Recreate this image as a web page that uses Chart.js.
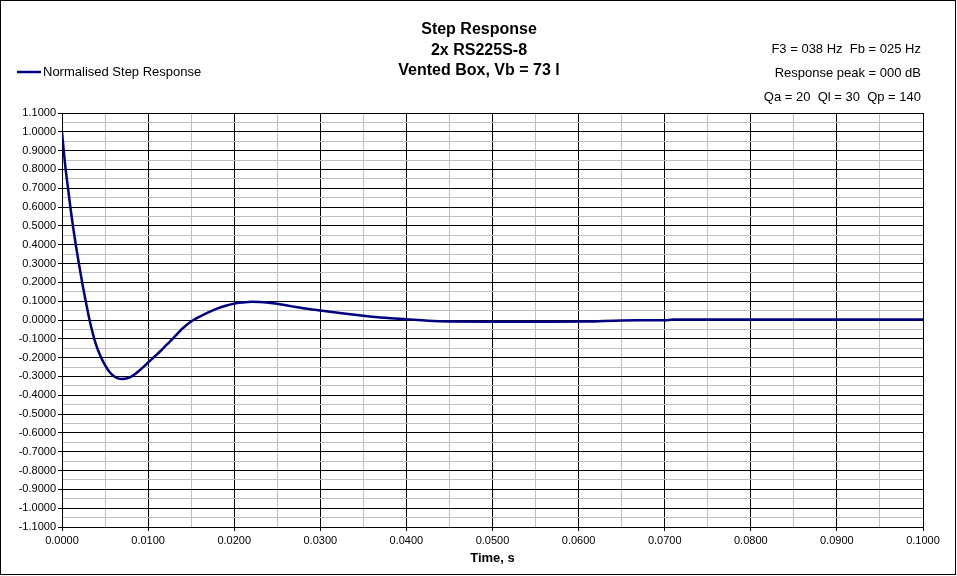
<!DOCTYPE html>
<html>
<head>
<meta charset="utf-8">
<title>Step Response</title>
<script src="https://cdn.jsdelivr.net/npm/chart.js@4.4.1/dist/chart.umd.min.js"></script>
<style>
  html, body { margin: 0; padding: 0; background: #ffffff; }
  #wrap { width: 957px; height: 576px; }
</style>
</head>
<body>
<div id="wrap"><canvas id="chart" width="957" height="576"></canvas></div>
<script>
const TITLE_LINES = ['Step Response', '2x RS225S-8', 'Vented Box, Vb = 73 l'];
const INFO_LINES = ['F3 = 038 Hz  Fb = 025 Hz', 'Response peak = 000 dB', 'Qa = 20  Ql = 30  Qp = 140'];
const SERIES_LABEL = 'Normalised Step Response';
const X_TITLE = 'Time, s';

// time (s) and normalised step response
const TIMES = [
  0.0000, 0.0002, 0.0004, 0.0007, 0.0010, 0.0013, 0.0016, 0.0020, 0.0024, 0.0028,
  0.0032, 0.0036, 0.0040, 0.0045, 0.0050, 0.0055, 0.0060, 0.0065, 0.0070, 0.0075,
  0.0080, 0.0085, 0.0090, 0.0095, 0.0100, 0.0105, 0.0110, 0.0115, 0.0120, 0.0125,
  0.0130, 0.0135, 0.0140, 0.0145, 0.0150, 0.0155, 0.0160, 0.0170, 0.0180, 0.0190,
  0.0200, 0.0210, 0.0220, 0.0230, 0.0240, 0.0250, 0.0260, 0.0270, 0.0280, 0.0290,
  0.0300, 0.0325, 0.0350, 0.0375, 0.0400, 0.0425, 0.0450, 0.0500, 0.0550, 0.0610,
  0.0650, 0.0700, 0.0710, 0.0800, 0.0900, 0.1000,
];
const RESPONSE = [
  1.000, 0.900, 0.810, 0.700, 0.590, 0.490, 0.400, 0.290, 0.185, 0.090,
  0.000, -0.075, -0.138, -0.195, -0.240, -0.275, -0.298, -0.310, -0.313, -0.311,
  -0.302, -0.287, -0.268, -0.248, -0.226, -0.205, -0.184, -0.162, -0.139, -0.116,
  -0.092, -0.069, -0.045, -0.025, -0.008, 0.006, 0.018, 0.040, 0.060, 0.076,
  0.087, 0.093, 0.097, 0.096, 0.092, 0.086, 0.078, 0.070, 0.062, 0.056,
  0.050, 0.036, 0.023, 0.012, 0.004, -0.004, -0.008, -0.009, -0.009, -0.008,
  -0.002, -0.001, 0.002, 0.002, 0.002, 0.002,
];

const X_MIN = 0, X_MAX = 0.1, X_STEP = 0.005, X_MAJOR = 0.01;
const Y_MIN = -1.1, Y_MAX = 1.1, Y_STEP = 0.05, Y_MAJOR = 0.1;

const NAVY = '#000080';
const FONT = '"Liberation Sans", Arial, sans-serif';

function onMajor(v, major) {
  const r = v / major;
  return Math.abs(r - Math.round(r)) < 1e-6;
}

// titles, info block, legend and frame drawn on top of the chart
const decorations = {
  id: 'decorations',
  afterDraw(chart) {
    const ctx = chart.ctx;
    ctx.save();
    ctx.fillStyle = '#000';
    ctx.textBaseline = 'middle';

    ctx.font = 'bold 16px ' + FONT;
    ctx.textAlign = 'center';
    [30, 51, 71].forEach((y, i) => ctx.fillText(TITLE_LINES[i], 479, y));

    ctx.font = '13px ' + FONT;
    ctx.textAlign = 'right';
    [49, 73, 97].forEach((y, i) => ctx.fillText(INFO_LINES[i], 921, y));

    // legend
    ctx.strokeStyle = NAVY;
    ctx.lineWidth = 2.5;
    ctx.beginPath();
    ctx.moveTo(17, 72);
    ctx.lineTo(41, 72);
    ctx.stroke();
    ctx.textAlign = 'left';
    ctx.fillText(SERIES_LABEL, 43, 72);

    // outer frame
    ctx.strokeStyle = '#000';
    ctx.lineWidth = 1;
    ctx.strokeRect(0.5, 0.5, 955, 574);
    ctx.restore();
  },
};

Chart.defaults.font.family = FONT;
Chart.defaults.color = '#000';

new Chart(document.getElementById('chart'), {
  type: 'line',
  data: {
    datasets: [{
      label: SERIES_LABEL,
      data: TIMES.map((t, i) => ({ x: t, y: RESPONSE[i] })),
      borderColor: NAVY,
      backgroundColor: NAVY,
      borderWidth: 2.5,
      pointRadius: 0,
      cubicInterpolationMode: 'monotone',
      fill: false,
    }],
  },
  options: {
    responsive: false,
    animation: false,
    devicePixelRatio: 1,
    layout: { padding: { top: 113, right: 34, left: 0, bottom: 0 } },
    plugins: {
      legend: { display: false },
      title: { display: false },
      tooltip: { enabled: false },
    },
    scales: {
      x: {
        type: 'linear',
        min: X_MIN,
        max: X_MAX,
        afterFit: (s) => { s.height = 49; },
        border: { color: '#000', width: 1 },
        grid: {
          color: (c) => (onMajor(c.tick.value, X_MAJOR) ? '#000' : '#c0c0c0'),
          tickColor: (c) => (onMajor(c.tick.value, X_MAJOR) ? '#000' : 'rgba(0,0,0,0)'),
          tickLength: 4,
        },
        ticks: {
          stepSize: X_STEP,
          autoSkip: false,
          maxRotation: 0,
          padding: 3,
          font: { size: 11 },
          callback: (v) => (onMajor(v, X_MAJOR) ? Number(v).toFixed(4) : ''),
        },
        title: {
          display: true,
          text: X_TITLE,
          font: { size: 13, weight: 'bold' },
          padding: { top: 0, bottom: 10 },
        },
      },
      y: {
        min: Y_MIN,
        max: Y_MAX,
        afterFit: (s) => { s.width = 62; },
        border: { color: '#000', width: 1 },
        grid: {
          color: (c) => (onMajor(c.tick.value, Y_MAJOR) ? '#000' : '#c0c0c0'),
          tickColor: (c) => (onMajor(c.tick.value, Y_MAJOR) ? '#000' : 'rgba(0,0,0,0)'),
          tickLength: 4,
        },
        ticks: {
          stepSize: Y_STEP,
          autoSkip: false,
          padding: 2,
          font: { size: 11 },
          callback: (v) => (onMajor(v, Y_MAJOR) ? Number(v).toFixed(4) : ''),
        },
      },
    },
  },
  plugins: [decorations],
});
</script>
</body>
</html>
